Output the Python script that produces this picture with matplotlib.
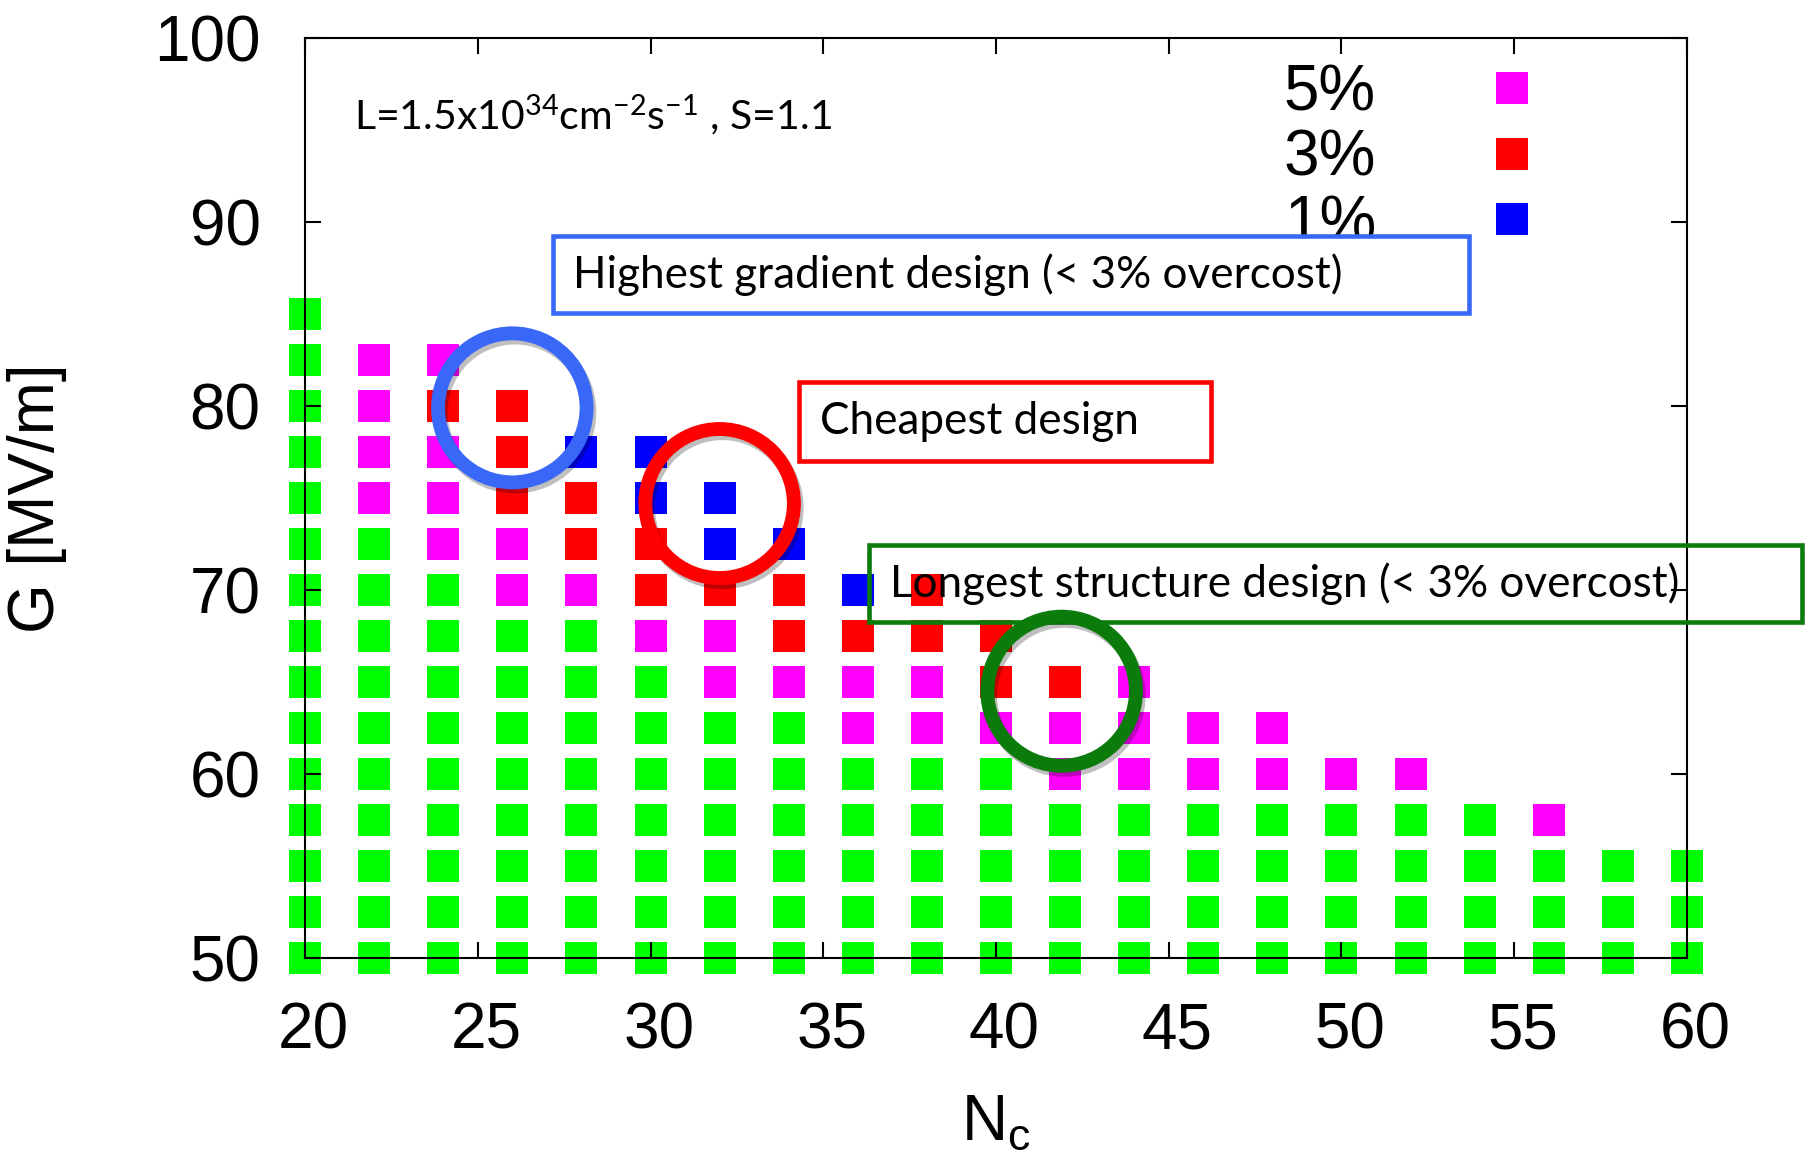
import numpy as np
import matplotlib
matplotlib.use("Agg")
import matplotlib.pyplot as plt
import matplotlib.transforms as mtransforms
from matplotlib.patches import Ellipse, Rectangle
from matplotlib.lines import Line2D
import matplotlib.patheffects as pe

plt.rcParams['font.family'] = ['Liberation Sans', 'DejaVu Sans']
plt.rcParams['mathtext.default'] = 'regular'

# scan of cell count vs. gradient; one code per Nc column starting at 20
NC_START = 20
NC_STEP = 2
g_rows = [85, 82.5, 80, 77.5, 75, 72.5, 70, 67.5, 65, 62.5, 60, 57.5, 55, 52.5, 50]
row_codes = [
    "G",
    "GMM",
    "GMRR",
    "GMMRBB",
    "GMMRRBB",
    "GGMMRRBB",
    "GGGMMRRRBR",
    "GGGGGMMRRRR",
    "GGGGGGMMMMRRM",
    "GGGGGGGGMMMMMMM",
    "GGGGGGGGGGGMMMMMM",
    "GGGGGGGGGGGGGGGGGGM",
    "GGGGGGGGGGGGGGGGGGGGG",
    "GGGGGGGGGGGGGGGGGGGGG",
    "GGGGGGGGGGGGGGGGGGGGG",
]
classes = ["G", "M", "R", "B"]
class_colors = {"G": "#00ff00", "M": "#ff00ff", "R": "#ff0000", "B": "#0000ff"}
class_labels = {"G": None, "M": "5%", "R": "3%", "B": "1%"}

# highlighted designs (Nc, G)
highlight_pts = [(26.0, 79.9), (32.0, 74.7), (41.9, 64.5)]
highlight_colors = ["#3968f8", "#fe0000", "#0b7b0b"]
box_texts = ["Highest gradient design (< 3% overcost)",
             "Cheapest design",
             "Longest structure design (< 3% overcost)"]
# box corners in data units: x0, y0, x1, y1
box_extents = [(27.17, 85.04, 53.70, 89.24),
               (34.30, 77.03, 46.23, 81.29),
               (36.33, 68.27, 63.33, 72.47)]

FS = 46

fig = plt.figure(figsize=(18.06, 11.67), dpi=100)
ax = fig.add_axes([0.1689, 0.1791, 0.7652, 0.7883])

pts = {c: ([], []) for c in classes}
for g, codes in zip(g_rows, row_codes):
    for k, c in enumerate(codes):
        pts[c][0].append(NC_START + NC_STEP * k)
        pts[c][1].append(g)

handles = []
for c in classes:
    xs, ys = pts[c]
    ax.scatter(xs, ys, marker='s', s=23 ** 2, color=class_colors[c],
               linewidths=0, clip_on=False, zorder=1)
for c in ["M", "R", "B"]:
    handles.append(Line2D([], [], ls='none', marker='s', markersize=23,
                          markerfacecolor=class_colors[c], markeredgewidth=0,
                          label=class_labels[c]))

ax.set_xlim(20, 60)
ax.set_ylim(50, 100)
ax.set_xticks(np.arange(20, 61, 5))
ax.set_yticks(np.arange(50, 101, 10))
ax.tick_params(direction='in', length=11.5, width=1.5, top=True, right=True,
               labelsize=FS)
ax.tick_params(axis='x', pad=31)
ax.tick_params(axis='y', pad=32)
# gnuplot-style labels sit a little right of their ticks
shift = mtransforms.ScaledTranslation(6 / 72, 0, fig.dpi_scale_trans)
for lab in ax.get_xticklabels():
    lab.set_transform(lab.get_transform() + shift)
for sp in ax.spines.values():
    sp.set_linewidth(1.5)

ax.set_xlabel('N$_c$', fontsize=FS)
ax.set_ylabel('G [MV/m]', fontsize=FS)
ax.xaxis.set_label_coords(0.5, -0.146)
ax.yaxis.set_label_coords(-0.172, 0.5)

leg = ax.legend(handles=handles, loc='upper right', bbox_to_anchor=(0.9196, 0.972),
                markerfirst=False, frameon=False, fontsize=FS, handletextpad=1.13,
                handlelength=2.0, labelspacing=0.08, borderpad=0, borderaxespad=0)
leg.set_zorder(3)

ax.text(21.43, 95.8, 'L=1.5x10$^{34}$cm$^{-2}$s$^{-1}$ , S=1.1', family='Lato',
        fontsize=29.5, ha='left', va='center')

for (x0, y0, x1, y1), txt, col in zip(box_extents, box_texts, highlight_colors):
    face = 'white' if col == highlight_colors[0] else 'none'
    ax.add_patch(Rectangle((x0, y0), x1 - x0, y1 - y0, facecolor=face,
                           edgecolor=col, linewidth=3.3, clip_on=False, zorder=4))
    ax.text(x0 + 0.6, (y0 + y1) / 2, txt, family='Lato', fontsize=31.7,
            ha='left', va='center', zorder=5, clip_on=False)

for (cx, cy), col in zip(highlight_pts, highlight_colors):
    ax.add_patch(Ellipse((cx, cy), 4.3, 8.1, fill=False, edgecolor=col,
                         linewidth=10, clip_on=False, zorder=6,
                         path_effects=[pe.SimpleLineShadow(offset=(2, -3), alpha=0.25),
                                       pe.Normal()]))

fig.savefig('out.png', dpi=100)
